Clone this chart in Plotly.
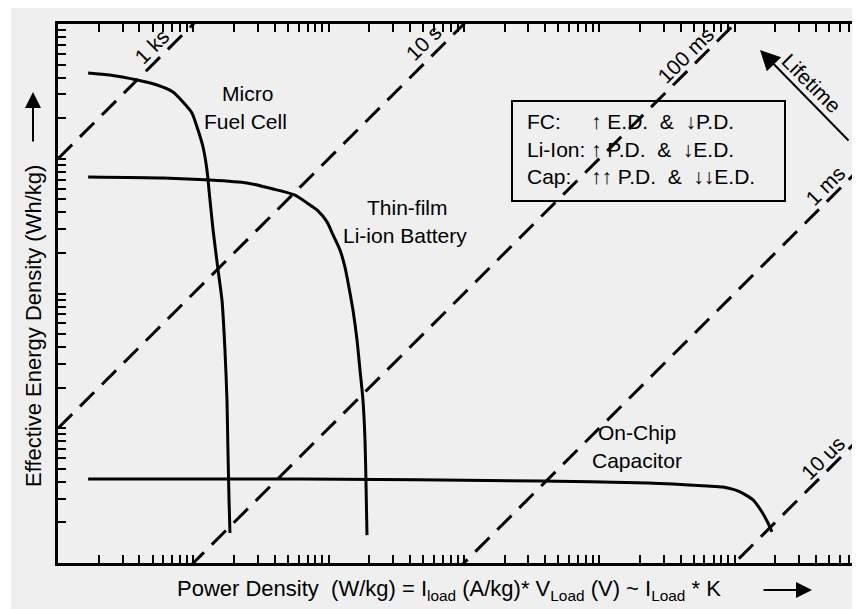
import plotly.graph_objects as go

# ---------------- data (arbitrary decade units) -------------
fc_power = [1.67, 2.42, 3.84, 5.40, 7.08, 8.39, 9.77, 10.84, 11.80, 12.62, 13.06,
            14.00, 15.24, 16.29, 17.14, 17.74, 18.03, 18.37, 18.66]
fc_energy = [4325, 4178, 3837, 3524, 3126, 2636, 2188, 1633, 1222, 826, 586,
             296, 149, 89.5, 38.1, 16.2, 6.90, 2.94, 1.67]

li_power = [1.67, 5.97, 13.3, 24.9, 38.8, 56.5, 69.2, 82.0, 97.3, 107.9, 121.4,
            132.1, 143.9, 151.4, 162.2, 170.6, 179.5, 185.8, 188.8, 192.2]
li_energy = [733, 720, 695, 661, 597, 538, 470, 417, 340, 272, 210,
             157, 101, 75.5, 45.2, 27.1, 16.2, 8.18, 4.13, 1.61]

cap_power = [1.67, 61.5, 3650, 22950, 62660, 82220, 109900, 137000, 159600,
             176900, 189200]
cap_energy = [4.20, 4.20, 4.06, 3.93, 3.73, 3.66, 3.37, 2.94, 2.39, 1.98, 1.70]

lifetime_labels = ["1 ks", "10 s", "100 ms", "1 ms", "10 us"]
lifetime_ratio = [1e3, 1e1, 1e-1, 1e-3, 1e-5]   # energy / power in chart units
line_power_ends = [1.0, 1e6]

NB = "\u00a0"
box_keys = ["FC:", "Li-Ion:", "Cap:"]
box_vals = ["\u2191 E.D." + NB + " &" + NB + " \u2193P.D.",
            "\u2191 P.D." + NB + " &" + NB + " \u2193E.D.",
            "\u2191\u2191 P.D." + NB + " &" + NB + " \u2193\u2193E.D."]

# ---------------- layout geometry -------------
OFF = 8                      # page body margin
W, H = 860 - OFF, 609 - OFF
ML, MR, MT, MB = 58 - OFF, 0, 24 - OFF, 609 - 563
PW, PH = W - ML - MR, H - MT - MB
FONT = "Liberation Sans, Arial, sans-serif"
BG = "#efefef"


def pxx(x):
    """page x pixel -> paper coordinate"""
    return (x - OFF - ML) / PW


def pxy(y):
    """page y pixel -> paper coordinate"""
    return (H - MB - (y - OFF)) / PH


fig = go.Figure()

# time iso-lines (dashed)
for ratio in lifetime_ratio:
    fig.add_trace(go.Scatter(
        x=line_power_ends, y=[ratio * p for p in line_power_ends],
        mode="lines", line=dict(color="black", width=3, dash="20px,11px"),
        hoverinfo="skip", showlegend=False))

for xs, ys in [(fc_power, fc_energy), (li_power, li_energy), (cap_power, cap_energy)]:
    fig.add_trace(go.Scatter(
        x=xs, y=ys, mode="lines",
        line=dict(color="black", width=3, shape="spline", smoothing=0.6),
        hoverinfo="skip", showlegend=False))

annotations = []


def text_ann(text, x, y, size=21, angle=0, xanchor="center"):
    annotations.append(dict(
        text=text, x=pxx(x), y=pxy(y), xref="paper", yref="paper",
        showarrow=False, textangle=angle, xanchor=xanchor, yanchor="middle",
        font=dict(family=FONT, size=size, color="black")))


# curve labels
text_ann("Micro", 247, 93)
text_ann("Fuel Cell", 245, 121)
text_ann("Thin-film", 407, 207)
text_ann("Li-ion Battery", 405, 236)
text_ann("On-Chip", 637, 432)
text_ann("Capacitor", 637, 460)

# lifetime line labels
label_pos = [(152, 47), (424, 43), (685, 55), (825, 185), (822, 458)]
for lab, (lx, ly) in zip(lifetime_labels, label_pos):
    text_ann(lab, lx, ly, size=21, angle=-45)

text_ann("Lifetime", 812, 83, size=21, angle=45)

# box texts
for i, (k, v) in enumerate(zip(box_keys, box_vals)):
    yy = 122 + i * 27.5
    text_ann(k, 525, yy, size=21, xanchor="left")
    text_ann(v, 589, yy, size=21, xanchor="left")

# axis titles
text_ann("Power Density" + NB + NB + "(W/kg) = I<sub>load</sub> (A/kg)* V<sub>Load</sub> (V) ~ "
         "I<sub>Load</sub> * K", 175, 590, size=22, xanchor="left")
text_ann("Effective Energy Density (Wh/kg)", 33, 326, size=22, angle=-90)

# arrows
for hx, hy, ax, ay, size in [(812, 590, -50, 0, 1.6), (33, 92, 0, 51, 1.6),
                             (760, 50, 90, 92, 2.0)]:
    annotations.append(dict(
        x=pxx(hx), y=pxy(hy), xref="paper", yref="paper", ax=ax, ay=ay,
        axref="pixel", ayref="pixel", text="", showarrow=True,
        arrowhead=2, arrowsize=size, arrowwidth=2, arrowcolor="black",
        standoff=0, startstandoff=0))

shapes = [
    dict(type="rect", xref="paper", yref="paper", layer="below",
         x0=pxx(11), x1=pxx(880), y0=pxy(0), y1=pxy(630),
         fillcolor=BG, line=dict(width=0)),
    dict(type="rect", xref="paper", yref="paper",
         x0=pxx(512), x1=pxx(785), y0=pxy(101), y1=pxy(201),
         fillcolor="rgba(0,0,0,0)", line=dict(color="black", width=2)),
]

axis_common = dict(
    type="log", showgrid=False, zeroline=False, showline=True,
    linecolor="black", linewidth=2.5, ticks="inside", ticklen=8,
    tickwidth=1.5, tickcolor="black", dtick="D1", showticklabels=False)

fig.update_layout(
    width=W, height=H,
    margin=dict(l=ML, r=MR, t=MT, b=MB, pad=0),
    paper_bgcolor="white", plot_bgcolor=BG,
    xaxis=dict(range=[0, PW / 135.3], mirror="ticks", **axis_common),
    yaxis=dict(range=[0, 4], **axis_common),
    annotations=annotations, shapes=shapes, showlegend=False)

fig.write_html("out.html", config=dict(displayModeBar=False))
